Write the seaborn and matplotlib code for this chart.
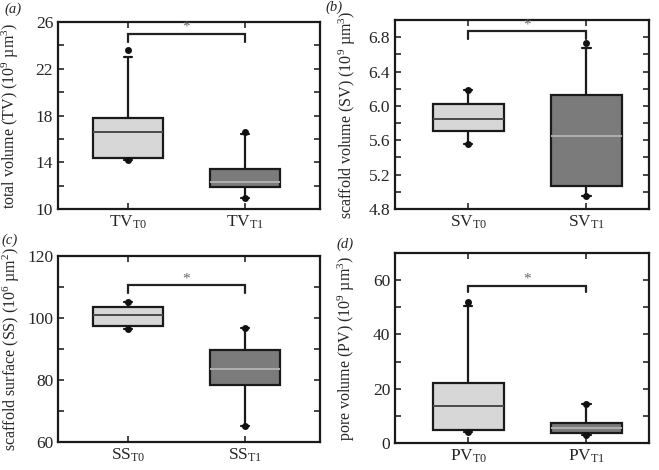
import numpy as np
import pandas as pd
import matplotlib
matplotlib.use("Agg")
import matplotlib.pyplot as plt
import seaborn as sns

sns.set_style("ticks")
plt.rcParams["font.family"] = ["Liberation Serif", "DejaVu Serif"]
plt.rcParams["mathtext.fontset"] = "custom"
plt.rcParams["mathtext.rm"] = "Liberation Serif"
plt.rcParams["mathtext.it"] = "Liberation Serif:italic"

# ---- data ----
groups_tv = ["TV$_{\\mathrm{T0}}$", "TV$_{\\mathrm{T1}}$"]
tv_wlo = [14.2, 10.9]
tv_q1 = [14.4, 11.85]
tv_med = [16.6, 12.3]
tv_q3 = [17.8, 13.4]
tv_whi = [23.0, 16.4]
tv_dots = [[14.2, 23.6], [10.9, 16.6]]

groups_sv = ["SV$_{\\mathrm{T0}}$", "SV$_{\\mathrm{T1}}$"]
sv_wlo = [5.56, 4.95]
sv_q1 = [5.71, 5.07]
sv_med = [5.85, 5.65]
sv_q3 = [6.02, 6.13]
sv_whi = [6.19, 6.67]
sv_dots = [[5.56, 6.19], [4.95, 6.73]]

groups_ss = ["SS$_{\\mathrm{T0}}$", "SS$_{\\mathrm{T1}}$"]
ss_wlo = [96.4, 65.1]
ss_q1 = [97.4, 78.4]
ss_med = [100.9, 83.6]
ss_q3 = [103.6, 89.6]
ss_whi = [105.1, 96.9]
ss_dots = [[96.4, 105.1], [65.1, 96.9]]

groups_pv = ["PV$_{\\mathrm{T0}}$", "PV$_{\\mathrm{T1}}$"]
pv_wlo = [3.9, 3.0]
pv_q1 = [4.8, 3.6]
pv_med = [13.6, 5.7]
pv_q3 = [22.1, 7.4]
pv_whi = [50.5, 14.5]
pv_dots = [[3.9, 51.8], [3.0, 14.5]]

ylabels = ["total volume (TV) (10$^{9}$ µm$^{3}$)",
           "scaffold volume (SV) (10$^{9}$ µm$^{3}$)",
           "scaffold surface (SS) (10$^{6}$ µm$^{2}$)",
           "pore volume (PV) (10$^{9}$ µm$^{3}$)"]
panel_letters = ["(a)", "(b)", "(c)", "(d)"]
sig_y = [25.0, 6.87, 110.5, 57.9]
sig_leg = [24.3, 6.78, 108.2, 55.6]

ylims = [(10, 26), (4.8, 7.0), (60, 120), (0, 70)]
major_steps = [4, 0.4, 20, 20]
minor_steps = [2, 0.2, 10, 10]

fill_colors = ["#d7d7d7", "#7b7b7b"]
median_colors = ["#4a4a4a", "#b0b0b0"]

panels = [
    (groups_tv, tv_wlo, tv_q1, tv_med, tv_q3, tv_whi, tv_dots),
    (groups_sv, sv_wlo, sv_q1, sv_med, sv_q3, sv_whi, sv_dots),
    (groups_ss, ss_wlo, ss_q1, ss_med, ss_q3, ss_whi, ss_dots),
    (groups_pv, pv_wlo, pv_q1, pv_med, pv_q3, pv_whi, pv_dots),
]

W, H = 659, 470
fig = plt.figure(figsize=(W / 100, H / 100), dpi=100)
rects_px = [(58, 22, 320, 209), (395, 20, 649, 209),
            (58, 256, 320, 442), (395, 253, 649, 443)]
xlims = [(-0.598, 1.641), (-0.62, 1.53), (-0.598, 1.641), (-0.62, 1.53)]
letter_pos = [(4, 9), (325, 7), (1, 240), (336, 244)]
# right edge (in px) of the rotated y-label text
ylabel_x_px = [21, 358, 22, 357]

lw = 1.6
for i, (groups, wlo, q1, med, q3, whi, dots) in enumerate(panels):
    l, t, r, b = rects_px[i]
    ax = fig.add_axes([l / W, 1 - b / H, (r - l) / W, (b - t) / H])
    for j, g in enumerate(groups):
        vals = [wlo[j], q1[j], med[j], q3[j], whi[j]]
        df = pd.DataFrame({"grp": [g] * len(vals), "val": vals})
        sns.boxplot(data=df, x="grp", y="val", order=groups, whis=(0, 100),
                    width=0.6, color=fill_colors[j], linecolor="#1a1a1a",
                    linewidth=lw, showfliers=False, saturation=1,
                    medianprops=dict(color=median_colors[j], linewidth=1.4),
                    capprops=dict(linewidth=lw), capwidths=0.07, ax=ax)
        ddf = pd.DataFrame({"grp": [g] * len(dots[j]), "val": dots[j]})
        sns.stripplot(data=ddf, x="grp", y="val", order=groups, jitter=False,
                      color="#111111", size=5, ax=ax, zorder=5)
    # significance bracket
    ax.plot([0, 0, 1, 1], [sig_leg[i], sig_y[i], sig_y[i], sig_leg[i]],
            color="#222222", lw=1.6, solid_joinstyle="miter")
    ax.text(0.5, sig_y[i], "*", ha="center", va="bottom", fontsize=11,
            color="#666666")
    ax.set_xlim(*xlims[i])
    ax.set_ylim(*ylims[i])
    lo, hi = ylims[i]
    ax.set_yticks(np.arange(lo, hi + 1e-9, major_steps[i]))
    ax.set_yticks(np.arange(lo, hi + 1e-9, minor_steps[i]), minor=True)
    if i == 1:
        ax.set_yticks(np.arange(lo, 6.81, major_steps[i]))
        ax.set_yticklabels([f"{v:.1f}" for v in np.arange(lo, 6.81, major_steps[i])])
    ax.set_xlabel("")
    ax.set_ylabel(ylabels[i], fontsize=11.5)
    ax.yaxis.set_label_coords((ylabel_x_px[i] - l) / (r - l), 0.5)
    ax.tick_params(axis="both", which="both", direction="in", top=True,
                   right=True, width=1.2, labelsize=12.5)
    ax.tick_params(axis="both", which="major", length=4)
    ax.tick_params(axis="y", which="minor", length=4)
    ax.tick_params(axis="x", labelsize=12.5)
    for s in ax.spines.values():
        s.set_linewidth(1.6)
        s.set_color("#1a1a1a")
    fig.text(letter_pos[i][0] / W, 1 - letter_pos[i][1] / H, panel_letters[i],
             fontsize=10.5, style="italic", va="center", ha="left")

fig.savefig("out.png", dpi=100)
